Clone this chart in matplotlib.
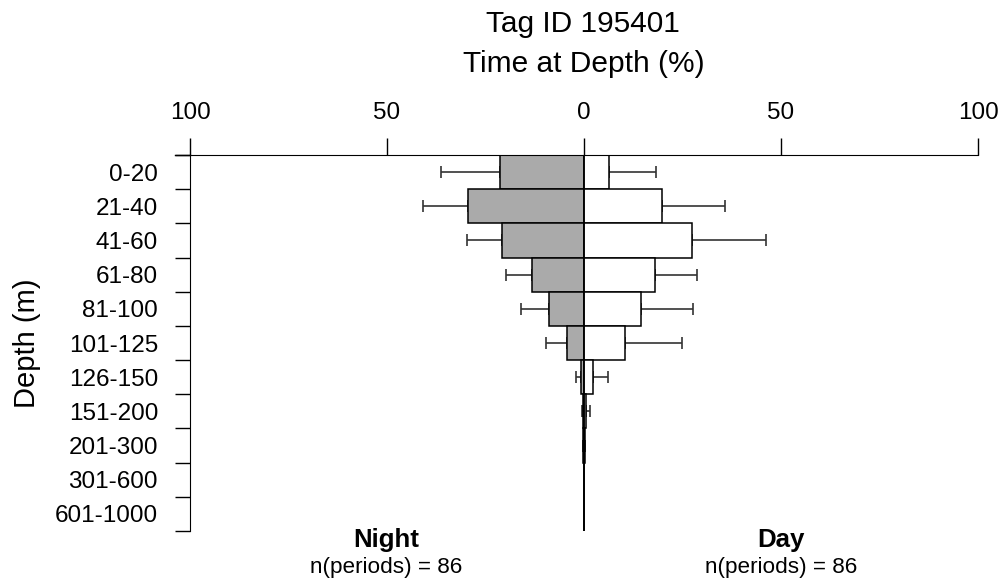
import numpy as np
import matplotlib.pyplot as plt
from matplotlib.lines import Line2D

# depth bins and time-at-depth (%) values
depth_bins = ['0-20', '21-40', '41-60', '61-80', '81-100', '101-125',
              '126-150', '151-200', '201-300', '301-600', '601-1000']
night_mean = [21.3, 29.4, 20.9, 13.3, 8.8, 4.4, 0.85, 0.3, 0.2, 0, 0]
night_sd = [15.0, 11.4, 8.9, 6.4, 7.3, 5.3, 1.15, 0.1, 0.05, 0, 0]
day_mean = [6.4, 19.8, 27.4, 18.1, 14.5, 10.5, 2.2, 0.5, 0.2, 0, 0]
day_sd = [12.0, 16.0, 18.9, 10.5, 13.2, 14.4, 3.9, 1.1, 0.1, 0, 0]
x_ticks = [-100, -50, 0, 50, 100]
x_tick_labels = ['100', '50', '0', '50', '100']
n_night = 86
n_day = 86

plt.rcParams['font.family'] = ['Liberation Sans', 'DejaVu Sans']

fig = plt.figure(figsize=(10, 5.84), dpi=100)
ax = fig.add_axes([0.19, 1 - 531 / 584, 0.788, 376 / 584])

y = np.arange(len(depth_bins))
night = -np.array(night_mean)
day = np.array(day_mean)

ax.barh(y, night, height=1, color='#aaaaaa', edgecolor='black', linewidth=1.1, zorder=2)
ax.barh(y, day, height=1, color='white', edgecolor='black', linewidth=1.1, zorder=2)

# error bars only on the outer side of each bar
for i in range(len(depth_bins)):
    if night_sd[i] > 0:
        ax.errorbar(night[i], y[i], xerr=[[night_sd[i]], [0]], fmt='none',
                    ecolor='#333333', elinewidth=1.2, capsize=4.3, capthick=1.2, zorder=1)
    if day_sd[i] > 0:
        ax.errorbar(day[i], y[i], xerr=[[0], [day_sd[i]]], fmt='none',
                    ecolor='#333333', elinewidth=1.2, capsize=4.3, capthick=1.2, zorder=1)

ax.axvline(0, color='black', linewidth=1.1, zorder=3)

ax.set_xlim(-100, 100)
ax.set_ylim(len(depth_bins) - 0.5, -0.5)

ax.spines['right'].set_visible(False)
ax.spines['bottom'].set_visible(False)
ax.xaxis.tick_top()
ax.set_xticks(x_ticks)
ax.set_xticklabels(x_tick_labels)
ax.tick_params(axis='x', length=12, width=1, pad=10, labelsize=17.5)

ax.set_yticks(np.arange(len(depth_bins) + 1) - 0.5)
ax.set_yticklabels([])
ax.set_yticks(y, minor=True)
ax.set_yticklabels(depth_bins, minor=True)
ax.tick_params(axis='y', which='major', length=11, width=1)
ax.tick_params(axis='y', which='minor', length=0, pad=23, labelsize=17.5)

# top line runs a bit further left than the axis
ax.add_line(Line2D([-103.8, -100], [-0.5, -0.5], color='black', linewidth=1, clip_on=False))

fig.text(0.386, 1 - 546.7 / 584, 'Night', ha='center', va='baseline', fontsize=18.6, fontweight='bold')
fig.text(0.386, 1 - 573 / 584, f'n(periods) = {n_night}', ha='center', va='baseline', fontsize=16.2)
fig.text(0.781, 1 - 546.7 / 584, 'Day', ha='center', va='baseline', fontsize=18.6, fontweight='bold')
fig.text(0.781, 1 - 573 / 584, f'n(periods) = {n_day}', ha='center', va='baseline', fontsize=16.2)

fig.text(0.583, 1 - 31.7 / 584, 'Tag ID 195401', ha='center', va='baseline', fontsize=21.5)
fig.text(0.584, 1 - 71.7 / 584, 'Time at Depth (%)', ha='center', va='baseline', fontsize=21.5)
fig.text(0.027, 1 - 343 / 584, 'Depth (m)', ha='center', va='center', rotation=90, fontsize=21)

plt.savefig('out.png', dpi=100)
